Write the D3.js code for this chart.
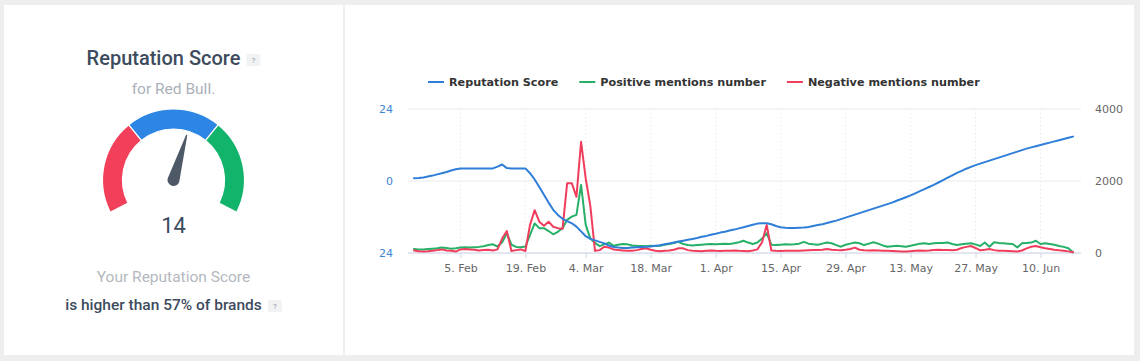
<!DOCTYPE html>
<html>
<head>
<meta charset="utf-8">
<script src="https://cdn.jsdelivr.net/npm/d3@7"></script>
<style>
  body { margin: 0; background: #eeeeee; }
  svg { display: block; }
</style>
</head>
<body>
<script>
'use strict';

// ---- data ----
const startDate = "2019-01-26"; // first daily point, one value per day below
const reputationScore = [
  0.9, 1.0, 1.2, 1.5, 1.8, 2.2, 2.6, 3.0, 3.5, 3.9, 4.2,
  4.2, 4.2, 4.2, 4.2, 4.2, 4.2, 4.2, 4.8, 5.5, 4.3, 4.2, 4.2, 4.2, 4.2,
  2.6, 0.5, -2.0, -4.6, -7.2, -9.6, -11.3, -12.6, -13.4, -14.1, -15.2, -16.8, -18.4, -19.3, -19.8,
  -20.3, -20.8, -21.5, -22.0, -22.2, -22.3, -22.3, -22.2, -22.1, -22.0, -21.9, -21.8, -21.6, -21.4,
  -21.1, -20.8, -20.5, -20.2, -19.9, -19.6, -19.3, -19.0, -18.6, -18.3, -17.9, -17.6, -17.2, -16.9,
  -16.5, -16.2, -15.8, -15.4, -15.0, -14.6, -14.2, -14.1, -14.1, -14.4, -15.0, -15.4, -15.6, -15.7,
  -15.7, -15.6, -15.5, -15.3, -15.0, -14.7, -14.4, -14.0, -13.6, -13.2, -12.7, -12.2, -11.7, -11.2,
  -10.7, -10.2, -9.7, -9.2, -8.7, -8.2, -7.7, -7.2, -6.6, -6.0, -5.4, -4.8, -4.1, -3.4, -2.7, -2.0,
  -1.3, -0.5, 0.3, 1.1, 1.9, 2.7, 3.4, 4.1, 4.7, 5.3, 5.8, 6.3, 6.8, 7.3, 7.8, 8.3, 8.8, 9.3, 9.8,
  10.3, 10.8, 11.2, 11.6, 12.0, 12.4, 12.8, 13.2, 13.6, 14.0, 14.4, 14.8
];
const positiveMentions = [
  110, 100, 95, 110, 120, 130, 150, 140, 120, 130, 150, 160, 150, 160, 170, 190, 220, 240, 180, 300,
  550, 230, 170, 160, 180, 500, 820, 690, 690, 610, 520, 590, 690, 920, 1010, 1060, 1890, 780, 400, 280,
  190, 240, 290, 200, 230, 250, 240, 210, 200, 195, 190, 200, 195, 200, 230, 250, 280, 310, 250, 220,
  210, 220, 230, 240, 250, 240, 250, 260, 250, 270, 300, 340, 290, 250, 290, 400, 550, 230, 220, 230,
  240, 235, 240, 260, 310, 260, 240, 230, 260, 290, 270, 220, 175, 230, 260, 290, 270, 220, 260, 300,
  260, 210, 175, 190, 200, 190, 175, 200, 230, 260, 270, 250, 270, 280, 280, 290, 250, 220, 240, 260,
  270, 240, 195, 290, 175, 300, 280, 270, 260, 250, 155, 270, 280, 290, 340, 250, 270, 250, 230, 195,
  170, 130, 20
];
const negativeMentions = [
  70, 50, 45, 50, 60, 80, 100, 70, 60, 40, 100, 110, 100, 90, 70, 80, 90, 70, 100, 400,
  610, 55, 80, 100, 55, 780, 1190, 870, 760, 870, 730, 690, 670, 1940, 1940, 1560, 3090, 2070, 1300, 60,
  80, 175, 150, 100, 80, 70, 60, 65, 80, 110, 130, 90, 60, 50, 60, 70, 90, 130, 130, 80,
  60, 55, 50, 60, 70, 60, 55, 60, 65, 70, 60, 55, 50, 70, 100, 300, 780, 70, 60, 55,
  60, 65, 60, 65, 70, 75, 80, 85, 90, 110, 90, 80, 75, 90, 110, 150, 90, 75, 70, 75,
  70, 65, 60, 55, 50, 45, 40, 50, 60, 70, 65, 70, 80, 90, 85, 80, 75, 90, 140, 170,
  195, 140, 75, 90, 110, 80, 65, 60, 55, 50, 40, 70, 130, 175, 195, 160, 130, 110, 90, 75,
  65, 45, 20
];
const seriesNames = ["Reputation Score", "Positive mentions number", "Negative mentions number"];
const seriesColors = ["#2f7ed8", "#27b068", "#f03d5c"];
const xTickDates = ["2019-02-05", "2019-02-19", "2019-03-04", "2019-03-18", "2019-04-01", "2019-04-15",
  "2019-04-29", "2019-05-13", "2019-05-27", "2019-06-10"];
const leftTicks = [-24, 0, 24];
const leftTickLabels = ["24", "0", "24"];
const rightTicks = [0, 2000, 4000];

// gauge
const gaugeScore = 14;
const gaugeRange = [-100, 100];
const gaugeSegments = ["#f2405a", "#2d86e3", "#12b36b"];
const percentile = 57;
const brand = "Red Bull";

// ---- page ----
const W = 1140, H = 361;
const svg = d3.select("body").append("svg").attr("width", W).attr("height", H);

svg.append("rect").attr("x", 4).attr("y", 5).attr("width", 339).attr("height", 350).attr("fill", "#fff");
svg.append("rect").attr("x", 345).attr("y", 5).attr("width", 789).attr("height", 350).attr("fill", "#fff");

// ---- gauge card ----
const gx = 173.5, gy = 180;
const sans = "Roboto, 'Noto Sans', sans-serif";

function helpBadge(g, x, y) {
  g.append("rect").attr("x", x).attr("y", y).attr("width", 14).attr("height", 12)
    .attr("rx", 2).attr("fill", "#f1f2f4");
  g.append("text").attr("x", x + 7).attr("y", y + 9).attr("text-anchor", "middle")
    .attr("font-family", sans).attr("font-size", 8).attr("fill", "#97a0aa").text("?");
}

const left = svg.append("g");
const title = left.append("text").attr("y", 65).attr("font-family", sans)
  .attr("font-size", 20).attr("font-weight", 500).attr("fill", "#3d4b5d").text("Reputation Score");
let tw = title.node().getComputedTextLength();
title.attr("x", gx - (tw + 20) / 2);
helpBadge(left, gx - (tw + 20) / 2 + tw + 6, 54);

left.append("text").attr("x", gx).attr("y", 94).attr("text-anchor", "middle")
  .attr("font-family", sans).attr("font-size", 15.5).attr("fill", "#aab1b9").text("for " + brand + ".");

const angle = d3.scaleLinear().domain(gaugeRange).range([-117, 117]);
const segStep = (gaugeRange[1] - gaugeRange[0]) / gaugeSegments.length;
const arc = d3.arc().innerRadius(51).outerRadius(71);
gaugeSegments.forEach((c, i) => {
  const a0 = angle(gaugeRange[0] + i * segStep) * Math.PI / 180;
  const a1 = angle(gaugeRange[0] + (i + 1) * segStep) * Math.PI / 180;
  left.append("path").attr("transform", `translate(${gx},${gy})`)
    .attr("d", arc({ startAngle: a0, endAngle: a1 }))
    .attr("fill", c).attr("stroke", "#fff").attr("stroke-width", 1.2);
});

// needle
const na = angle(gaugeScore);
left.append("path")
  .attr("transform", `translate(${gx},${gy}) rotate(${na})`)
  .attr("d", "M -6 0 A 6 6 0 0 0 6 0 L 0.6 -47 L -0.6 -47 Z")
  .attr("fill", "#4d5966");

left.append("text").attr("x", gx).attr("y", 233).attr("text-anchor", "middle")
  .attr("font-family", sans).attr("font-size", 22).attr("fill", "#3a4a5c").text(gaugeScore);

left.append("text").attr("x", gx).attr("y", 282).attr("text-anchor", "middle")
  .attr("font-family", sans).attr("font-size", 15.5).attr("fill", "#b3b8be").text("Your Reputation Score");

const higher = left.append("text").attr("y", 310).attr("font-family", sans)
  .attr("font-size", 15.5).attr("font-weight", 500).attr("fill", "#3d4b5d")
  .text(`is higher than ${percentile}% of brands`);
tw = higher.node().getComputedTextLength();
higher.attr("x", gx - (tw + 20) / 2);
helpBadge(left, gx - (tw + 20) / 2 + tw + 6, 300);

// ---- line chart ----
const axisFont = "'DejaVu Sans', sans-serif";
const parse = d3.utcParse("%Y-%m-%d");
const t0 = parse(startDate);
const dates = reputationScore.map((d, i) => d3.utcDay.offset(t0, i));

const x = d3.scaleUtc().domain([dates[0], dates[dates.length - 1]]).range([414, 1073]);
const yL = d3.scaleLinear().domain([-24, 24]).range([253, 109]);
const yR = d3.scaleLinear().domain([0, 4000]).range([253, 109]);
const plotX0 = 408, plotX1 = 1081;

const chart = svg.append("g");

// horizontal grid
chart.selectAll(".hgrid").data(rightTicks).enter().append("line")
  .attr("x1", plotX0).attr("x2", plotX1)
  .attr("y1", d => yR(d)).attr("y2", d => yR(d))
  .attr("stroke", "#eaeaea").attr("stroke-width", 1);

// vertical dotted grid
const xt = xTickDates.map(parse);
chart.selectAll(".vgrid").data(xt).enter().append("line")
  .attr("x1", d => x(d)).attr("x2", d => x(d))
  .attr("y1", 109).attr("y2", 253)
  .attr("stroke", "#e2e2e2").attr("stroke-dasharray", "1,3");

// x axis
const xAxis = d3.axisBottom(x).tickValues(xt).tickFormat(d3.utcFormat("%-d. %b")).tickSize(5).tickPadding(6);
const xg = chart.append("g").attr("transform", "translate(0,253)").call(xAxis);
xg.select(".domain").attr("d", `M${plotX0},0H${plotX1}`).attr("stroke", "#ccd6eb");
xg.selectAll(".tick line").attr("stroke", "#ccd6eb");
xg.selectAll("text").attr("font-family", axisFont).attr("font-size", 11).attr("fill", "#666");

// left axis
const yLAxis = d3.axisLeft(yL).tickValues(leftTicks).tickFormat((d, i) => leftTickLabels[i]).tickSize(0).tickPadding(15);
const ylg = chart.append("g").attr("transform", `translate(${plotX0},0)`).call(yLAxis);
ylg.select(".domain").remove();
ylg.selectAll("text").attr("font-family", axisFont).attr("font-size", 11).attr("fill", "#3d85d6");

// right axis
const yRAxis = d3.axisRight(yR).tickValues(rightTicks).tickFormat(d3.format("d")).tickSize(0).tickPadding(14);
const yrg = chart.append("g").attr("transform", `translate(${plotX1},0)`).call(yRAxis);
yrg.select(".domain").remove();
yrg.selectAll("text").attr("font-family", axisFont).attr("font-size", 11).attr("fill", "#666");

// lines
const series = [
  { values: positiveMentions, y: yR, color: seriesColors[1] },
  { values: negativeMentions, y: yR, color: seriesColors[2] },
  { values: reputationScore, y: yL, color: seriesColors[0] }
];
series.forEach(s => {
  const line = d3.line().x((d, i) => x(dates[i])).y(d => s.y(d));
  chart.append("path").datum(s.values).attr("d", line)
    .attr("fill", "none").attr("stroke", s.color).attr("stroke-width", 2)
    .attr("stroke-linejoin", "round").attr("stroke-linecap", "round");
});

// legend
const legend = svg.append("g");
let lx = 428;
seriesNames.forEach((name, i) => {
  legend.append("line").attr("x1", lx).attr("x2", lx + 16).attr("y1", 82).attr("y2", 82)
    .attr("stroke", seriesColors[i]).attr("stroke-width", 2);
  const t = legend.append("text").attr("x", lx + 21).attr("y", 86)
    .attr("font-family", axisFont).attr("font-size", 11.2).attr("font-weight", "bold")
    .attr("fill", "#333").text(name);
  lx += 21 + t.node().getComputedTextLength() + 21;
});
</script>
</body>
</html>
